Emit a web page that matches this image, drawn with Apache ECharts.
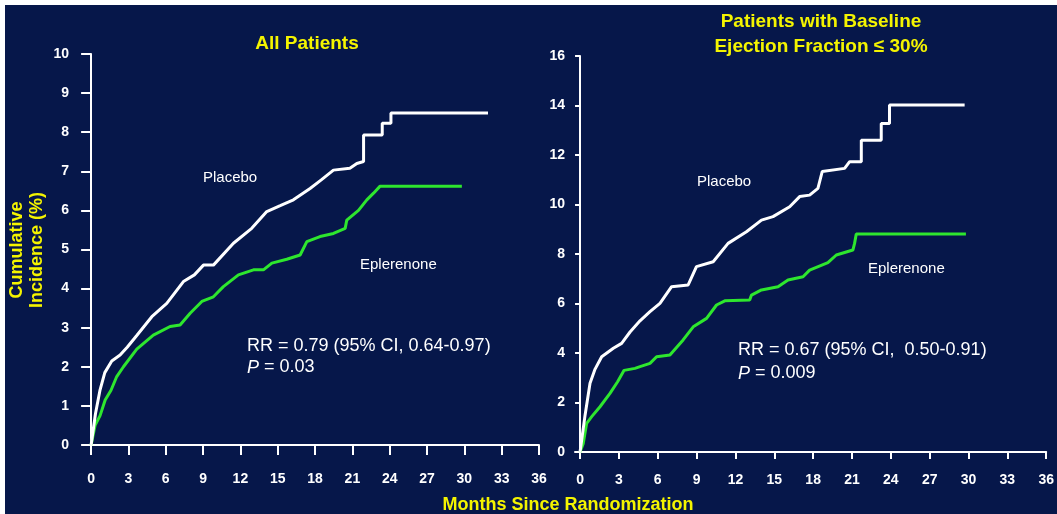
<!DOCTYPE html>
<html>
<head>
<meta charset="utf-8">
<script src="https://cdn.jsdelivr.net/npm/echarts@6/dist/echarts.min.js"></script>
<style>
  html, body { margin: 0; padding: 0; background: #ffffff; }
  #chart { width: 1057px; height: 514px; }
</style>
</head>
<body>
<div id="chart"></div>
<script>
// Tick values
const monthTicks = [0, 3, 6, 9, 12, 15, 18, 21, 24, 27, 30, 33, 36];
const allPctTicks = [0, 1, 2, 3, 4, 5, 6, 7, 8, 9, 10];
const efPctTicks = [0, 2, 4, 6, 8, 10, 12, 14, 16];

// All patients: placebo
const allPlaceboMonths = [0, 0.35, 0.72, 1.1, 1.66, 2.33, 2.9, 3.67, 4.88, 6.08, 7.42, 8.3, 9.03, 9.83, 11.44, 12.91, 14.12, 15.2, 16.26, 17.6, 18.5, 19.48, 20.8, 21.36, 21.9, 21.9, 23.4, 23.4, 24.1, 24.1, 31.9];
const allPlaceboValues = [0, 0.8, 1.41, 1.85, 2.15, 2.3, 2.5, 2.8, 3.28, 3.62, 4.18, 4.35, 4.6, 4.6, 5.16, 5.54, 5.97, 6.12, 6.27, 6.56, 6.78, 7.03, 7.08, 7.2, 7.25, 7.93, 7.93, 8.23, 8.23, 8.49, 8.49];

// All patients: eplerenone
const allEplMonths = [0, 0.32, 0.72, 1.13, 1.6, 2.06, 2.6, 3.67, 5.0, 6.35, 7.15, 7.96, 8.9, 9.83, 10.63, 11.84, 13.05, 13.85, 14.53, 15.73, 16.8, 17.34, 18.4, 19.48, 20.42, 20.55, 21.49, 22.16, 22.7, 23.23, 29.8];
const allEplValues = [0, 0.5, 0.75, 1.15, 1.4, 1.75, 2.0, 2.45, 2.81, 3.03, 3.07, 3.37, 3.67, 3.79, 4.05, 4.35, 4.48, 4.48, 4.65, 4.75, 4.86, 5.2, 5.33, 5.41, 5.54, 5.75, 6.0, 6.27, 6.44, 6.62, 6.62];

// Ejection fraction <= 30%: placebo
const efPlaceboMonths = [0, 0.39, 0.77, 1.16, 1.67, 2.57, 3.21, 3.86, 4.63, 5.4, 6.17, 7.07, 8.35, 8.99, 10.28, 11.43, 12.85, 14.01, 14.9, 16.19, 16.96, 17.73, 18.37, 18.7, 20.43, 20.82, 21.72, 21.72, 23.26, 23.26, 23.9, 23.9, 29.7];
const efPlaceboValues = [0, 1.5, 2.78, 3.35, 3.85, 4.19, 4.39, 4.85, 5.3, 5.67, 6.01, 6.68, 6.75, 7.49, 7.69, 8.43, 8.9, 9.37, 9.51, 9.91, 10.32, 10.38, 10.65, 11.33, 11.46, 11.73, 11.73, 12.6, 12.6, 13.27, 13.27, 14.02, 14.02];

// Ejection fraction <= 30%: eplerenone
const efEplMonths = [0, 0.25, 0.51, 0.9, 1.54, 2.31, 2.9, 3.4, 4.24, 4.63, 5.4, 5.91, 6.94, 7.96, 8.74, 9.77, 10.54, 11.18, 13.1, 13.24, 14.01, 15.29, 16.06, 17.22, 17.73, 19.14, 19.79, 21.07, 21.2, 21.33, 29.8];
const efEplValues = [0, 0.35, 1.16, 1.43, 1.83, 2.37, 2.84, 3.3, 3.38, 3.45, 3.58, 3.85, 3.92, 4.53, 5.06, 5.4, 5.94, 6.11, 6.14, 6.34, 6.55, 6.68, 6.95, 7.08, 7.35, 7.65, 7.96, 8.16, 8.43, 8.81, 8.81];

const pairs = (xs, ys) => xs.map((x, i) => [x, ys[i]]);

const NAVY = '#06174a';
const YELLOW = '#f4f400';
const GREEN = '#2ee62e';
const FONT = 'Liberation Sans, Arial, sans-serif';

function valueAxis(opts) {
  return Object.assign({
    type: 'value',
    splitLine: { show: false },
    axisLine: { show: true, lineStyle: { color: '#ffffff', width: 2 } },
    axisTick: { show: true, inside: false, lineStyle: { color: '#ffffff', width: 2 } },
    axisLabel: { color: '#ffffff', fontFamily: FONT, fontWeight: 'bold', fontSize: 14 }
  }, opts);
}

function tickSet(values, len, margin) {
  return {
    axisTick: { show: true, customValues: values, length: len, lineStyle: { color: '#ffffff', width: 2 } },
    axisLabel: { customValues: values, margin: margin, color: '#ffffff', fontFamily: FONT, fontWeight: 'bold', fontSize: 14 }
  };
}

function lineSeries(data, color, axisIdx) {
  return {
    type: 'line',
    data: data,
    xAxisIndex: axisIdx,
    yAxisIndex: axisIdx,
    showSymbol: false,
    symbol: 'none',
    smooth: false,
    silent: true,
    lineStyle: { color: color, width: 3 },
    z: color === GREEN ? 3 : 4
  };
}

const chart = echarts.init(document.getElementById('chart'), null, { renderer: 'canvas' });

chart.setOption({
  animation: false,
  backgroundColor: '#ffffff',
  title: [
    {
      text: 'All Patients',
      left: 302, top: 29, textAlign: 'center',
      textStyle: { color: YELLOW, fontFamily: FONT, fontWeight: 'bold', fontSize: 19 }
    },
    {
      text: 'Patients with Baseline\nEjection Fraction \u2264 30%',
      left: 816, top: 4, textAlign: 'center',
      textStyle: { color: YELLOW, fontFamily: FONT, fontWeight: 'bold', fontSize: 19, lineHeight: 25 }
    }
  ],
  grid: [
    { left: 88, top: 54, width: 451, height: 398, containLabel: false },
    { left: 575, top: 56, width: 472, height: 400, containLabel: false }
  ],
  xAxis: [
    valueAxis(Object.assign({ gridIndex: 0, min: -0.25, max: 36 }, tickSet(monthTicks, 10, 20))),
    valueAxis(Object.assign({ gridIndex: 1, min: -0.39, max: 36 }, tickSet(monthTicks, 7, 17)))
  ],
  yAxis: [
    valueAxis(Object.assign({ gridIndex: 0, min: -0.18, max: 10 }, tickSet(allPctTicks, 10, 19))),
    valueAxis(Object.assign({ gridIndex: 1, min: -0.16, max: 16 }, tickSet(efPctTicks, 5, 10)))
  ],
  series: [
    lineSeries(pairs(allEplMonths, allEplValues), GREEN, 0),
    lineSeries(pairs(allPlaceboMonths, allPlaceboValues), '#ffffff', 0),
    lineSeries(pairs(efEplMonths, efEplValues), GREEN, 1),
    lineSeries(pairs(efPlaceboMonths, efPlaceboValues), '#ffffff', 1)
  ],
  graphic: [
    { type: 'rect', z: -100, silent: true, shape: { x: 5, y: 5, width: 1052, height: 509 }, style: { fill: NAVY } },
    {
      type: 'text', x: 27, y: 250, rotation: Math.PI / 2, silent: true,
      style: { text: 'Cumulative\nIncidence (%)', fill: YELLOW, font: 'bold 18px ' + FONT, lineHeight: 20, align: 'center', verticalAlign: 'middle' }
    },
    {
      type: 'text', x: 568, y: 505, silent: true,
      style: { text: 'Months Since Randomization', fill: YELLOW, font: 'bold 18px ' + FONT, align: 'center', verticalAlign: 'middle' }
    },
    { type: 'text', x: 203, y: 178, silent: true, style: { text: 'Placebo', fill: '#ffffff', font: '15px ' + FONT, verticalAlign: 'middle' } },
    { type: 'text', x: 360, y: 265, silent: true, style: { text: 'Eplerenone', fill: '#ffffff', font: '15px ' + FONT, verticalAlign: 'middle' } },
    { type: 'text', x: 697, y: 182, silent: true, style: { text: 'Placebo', fill: '#ffffff', font: '15px ' + FONT, verticalAlign: 'middle' } },
    { type: 'text', x: 868, y: 269, silent: true, style: { text: 'Eplerenone', fill: '#ffffff', font: '15px ' + FONT, verticalAlign: 'middle' } },
    {
      type: 'text', x: 247, y: 336, silent: true,
      style: {
        text: '{n|RR = 0.79 (95% CI, 0.64-0.97)}\n{i|P}{n| = 0.03}',
        rich: {
          n: { fill: '#ffffff', fontFamily: FONT, fontSize: 18, lineHeight: 21 },
          i: { fill: '#ffffff', fontFamily: FONT, fontSize: 18, fontStyle: 'italic', lineHeight: 21 }
        }
      }
    },
    {
      type: 'text', x: 738, y: 339, silent: true,
      style: {
        text: '{n|RR = 0.67 (95% CI,  0.50-0.91)}\n{i|P}{n| = 0.009}',
        rich: {
          n: { fill: '#ffffff', fontFamily: FONT, fontSize: 18, lineHeight: 23 },
          i: { fill: '#ffffff', fontFamily: FONT, fontSize: 18, fontStyle: 'italic', lineHeight: 23 }
        }
      }
    }
  ]
});
</script>
</body>
</html>
